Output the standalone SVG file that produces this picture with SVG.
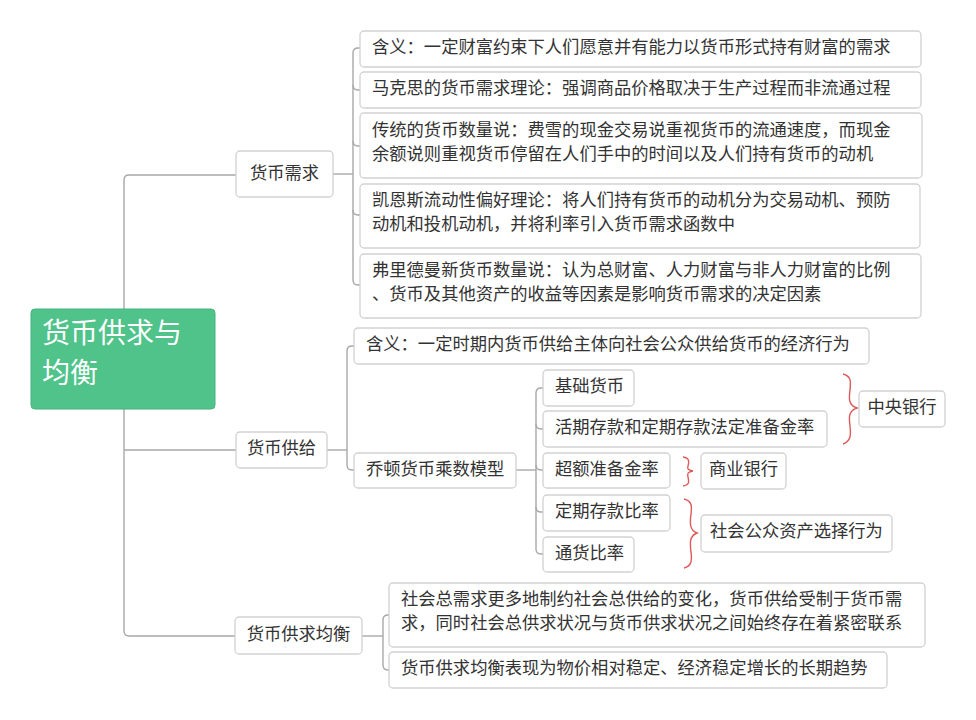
<svg xmlns="http://www.w3.org/2000/svg" width="976" height="720" viewBox="0 0 976 720">
<style>
.bx{fill:#fff;stroke:#d2d2d2;stroke-width:1.3}
.t{font-family:"Noto Sans CJK SC","Noto Sans",sans-serif;font-size:17.3px;fill:#333;dominant-baseline:central}
.c{text-anchor:middle}
.ln{fill:none;stroke:#a8a8a8;stroke-width:1.4}
.br{fill:none;stroke:#dd5a5a;stroke-width:1.4}
.root{fill:#4fc38a;stroke:#45b47e;stroke-width:1}
.rt{font-family:"Noto Sans CJK SC","Noto Sans",sans-serif;font-size:28px;fill:#fff;dominant-baseline:central}
</style>
<rect width="976" height="720" fill="#fff"/>
<g id="connectors">
<path class="ln" d="M236,175 H129 Q124,175 124,180 V631 Q124,636 129,636 H235"/>
<path class="ln" d="M124,450 H236"/>
<path class="ln" d="M333,174 H353"/>
<path class="ln" d="M360,48 H358 Q353,48 353,53 V280 Q353,285 358,285 H360"/>
<path class="ln" d="M353,85 Q353,90 358,90 H360"/>
<path class="ln" d="M353,141 Q353,146 358,146 H360"/>
<path class="ln" d="M353,210 Q353,215 358,215 H360"/>
<path class="ln" d="M327,450 H347"/>
<path class="ln" d="M354,346 H352 Q347,346 347,351 V465 Q347,470 352,470 H354"/>
<path class="ln" d="M516,470 H536"/>
<path class="ln" d="M543,388 H541 Q536,388 536,393 V549 Q536,554 541,554 H543"/>
<path class="ln" d="M536,424 Q536,429 541,429 H543"/>
<path class="ln" d="M536,465 Q536,470 541,470 H543"/>
<path class="ln" d="M536,507 Q536,512 541,512 H543"/>
<path class="ln" d="M362,636 H383"/>
<path class="ln" d="M389,615 H388 Q383,615 383,620 V665 Q383,670 388,670 H389"/>
</g>
<g id="braces">
<path class="br" d="M843,374 C851,376 851,381 850,390 C849,398 848,405 857,408 C848,411 849,418 850,426 C851,435 851,441 843,444"/>
<path class="br" d="M683,457 C690,458 689,462 688,466 C687,469 688,470 693,471 C688,472 687,473 688,477 C689,481 690,485 683,486"/>
<path class="br" d="M684,499 C692,501 692,506 691,514 C690,522 689,530 697,533 C689,536 690,544 691,552 C692,560 692,566 684,568"/>
</g>
<g id="root">
<rect class="root" x="31" y="309" width="184" height="100" rx="4"/>
<text class="rt" x="42" y="331">货币供求与</text>
<text class="rt" x="42" y="371">均衡</text>
</g>
<g id="n-demand">
<rect class="bx" x="236" y="151" width="97" height="46" rx="4"/>
<text class="t c" x="284.5" y="171">货币需求</text>
</g>
<g id="n-d1">
<rect class="bx" x="360" y="31" width="561" height="36" rx="4"/>
<text class="t" x="372" y="45.5">含义：一定财富约束下人们愿意并有能力以货币形式持有财富的需求</text>
</g>
<g id="n-d2">
<rect class="bx" x="360" y="72" width="561" height="36" rx="4"/>
<text class="t" x="372" y="86.5">马克思的货币需求理论：强调商品价格取决于生产过程而非流通过程</text>
</g>
<g id="n-d3">
<rect class="bx" x="360" y="113" width="562" height="65" rx="4"/>
<text class="t" x="372" y="128.5">传统的货币数量说：费雪的现金交易说重视货币的流通速度，而现金</text>
<text class="t" x="372" y="152.5">余额说则重视货币停留在人们手中的时间以及人们持有货币的动机</text>
</g>
<g id="n-d4">
<rect class="bx" x="360" y="184" width="560" height="64" rx="4"/>
<text class="t" x="372" y="198.5">凯恩斯流动性偏好理论：将人们持有货币的动机分为交易动机、预防</text>
<text class="t" x="372" y="222.5">动机和投机动机，并将利率引入货币需求函数中</text>
</g>
<g id="n-d5">
<rect class="bx" x="360" y="254" width="561" height="64" rx="4"/>
<text class="t" x="372" y="268.5">弗里德曼新货币数量说：认为总财富、人力财富与非人力财富的比例</text>
<text class="t" x="372" y="292.5">、货币及其他资产的收益等因素是影响货币需求的决定因素</text>
</g>
<g id="n-supply">
<rect class="bx" x="236" y="432" width="91" height="36" rx="4"/>
<text class="t c" x="281.5" y="446.5">货币供给</text>
</g>
<g id="n-s1">
<rect class="bx" x="354" y="328" width="515" height="36" rx="4"/>
<text class="t" x="366" y="342.5">含义：一定时期内货币供给主体向社会公众供给货币的经济行为</text>
</g>
<g id="n-s2">
<rect class="bx" x="354" y="453" width="162" height="35" rx="4"/>
<text class="t" x="366" y="467.5">乔顿货币乘数模型</text>
</g>
<g id="n-m1">
<rect class="bx" x="543" y="370" width="91" height="36" rx="4"/>
<text class="t" x="555" y="384.5">基础货币</text>
</g>
<g id="n-m2">
<rect class="bx" x="543" y="411" width="284" height="36" rx="4"/>
<text class="t" x="555" y="425.5">活期存款和定期存款法定准备金率</text>
</g>
<g id="n-m3">
<rect class="bx" x="543" y="453" width="127" height="35" rx="4"/>
<text class="t" x="555" y="467.5">超额准备金率</text>
</g>
<g id="n-m4">
<rect class="bx" x="543" y="495" width="127" height="36" rx="4"/>
<text class="t" x="555" y="509.5">定期存款比率</text>
</g>
<g id="n-m5">
<rect class="bx" x="543" y="537" width="91" height="35" rx="4"/>
<text class="t" x="555" y="551.5">通货比率</text>
</g>
<g id="n-cb">
<rect class="bx" x="859" y="391" width="86" height="36" rx="4"/>
<text class="t c" x="902" y="405.5">中央银行</text>
</g>
<g id="n-bank">
<rect class="bx" x="701" y="453" width="85" height="36" rx="4"/>
<text class="t c" x="743.5" y="467.5">商业银行</text>
</g>
<g id="n-public">
<rect class="bx" x="701" y="515" width="191" height="37" rx="4"/>
<text class="t c" x="796.5" y="529.5">社会公众资产选择行为</text>
</g>
<g id="n-eq">
<rect class="bx" x="235" y="617" width="127" height="37" rx="4"/>
<text class="t c" x="298.5" y="632.5">货币供求均衡</text>
</g>
<g id="n-e1">
<rect class="bx" x="389" y="583" width="536" height="64" rx="4"/>
<text class="t" x="401" y="597.5">社会总需求更多地制约社会总供给的变化，货币供给受制于货币需</text>
<text class="t" x="401" y="621.5">求，同时社会总供求状况与货币供求状况之间始终存在着紧密联系</text>
</g>
<g id="n-e2">
<rect class="bx" x="389" y="652" width="498" height="36" rx="4"/>
<text class="t" x="401" y="666.5">货币供求均衡表现为物价相对稳定、经济稳定增长的长期趋势</text>
</g>
</svg>
